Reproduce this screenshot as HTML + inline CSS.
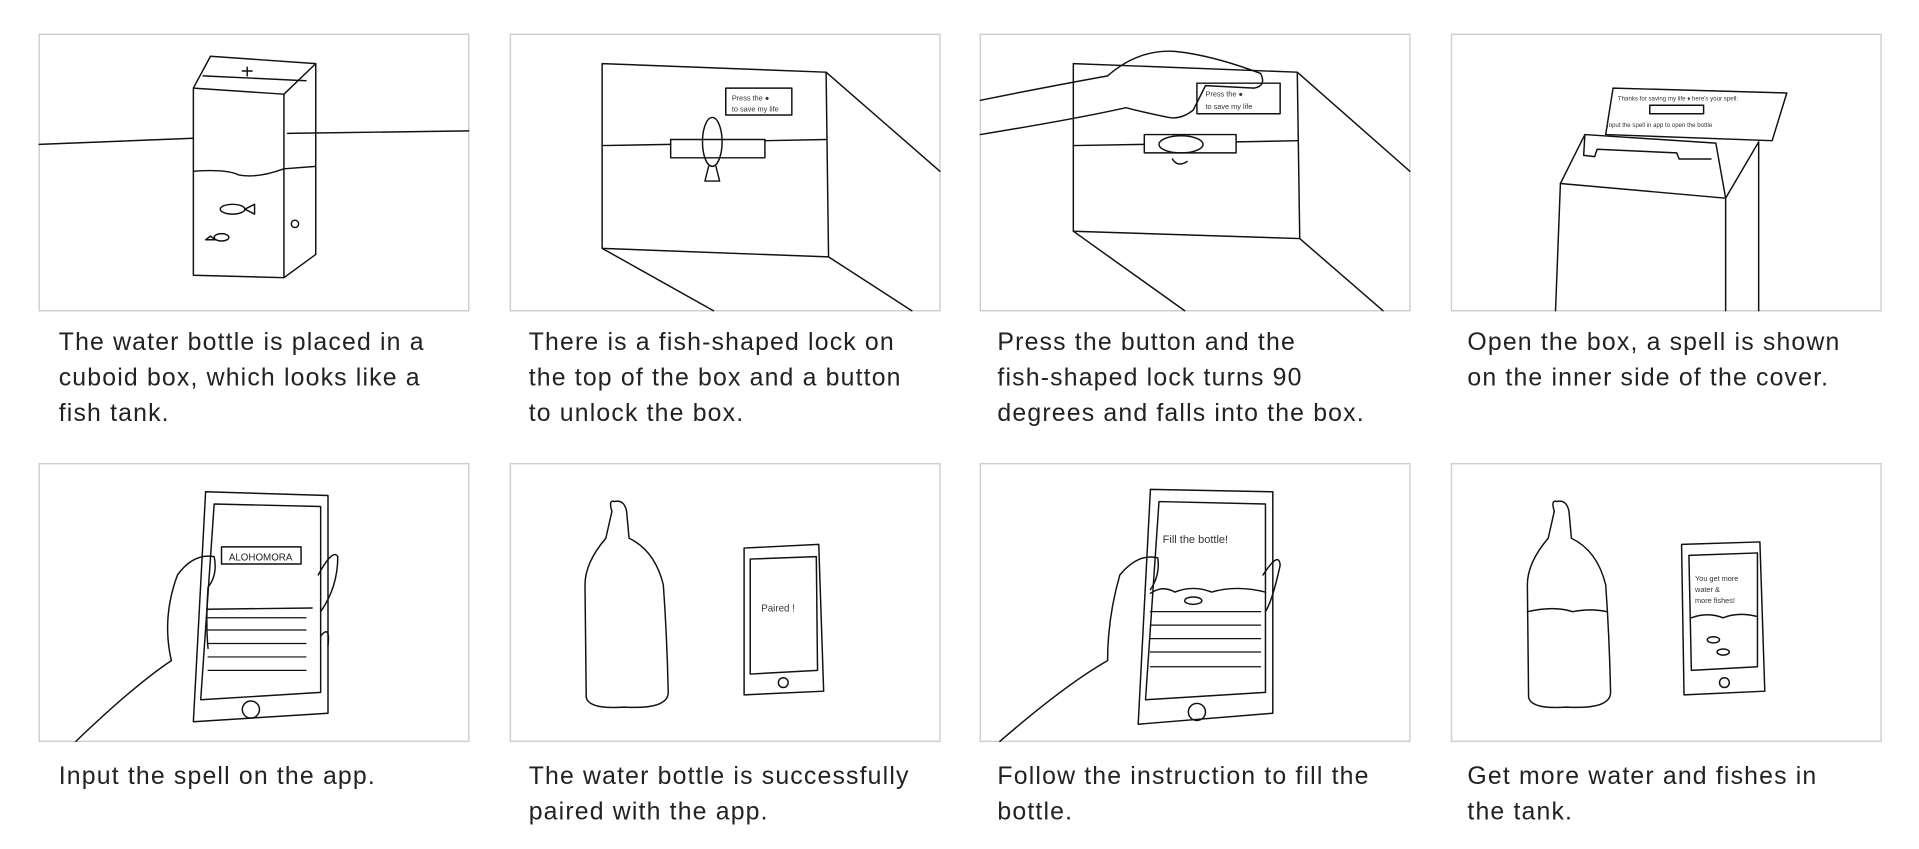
<!DOCTYPE html>
<html><head><meta charset="utf-8"><style>
html,body{margin:0;padding:0;background:#fff;width:1919px;height:849px;overflow:hidden}
svg{display:block}
text{font-family:"Liberation Sans",sans-serif;fill:#222}
.p{fill:#fff;stroke:#cfcfcf;stroke-width:1.2}
.s{fill:none;stroke:#111;stroke-width:1.2;stroke-linecap:round;stroke-linejoin:round}
.t{font-size:20.3px;letter-spacing:0.95px}
.sm{font-size:6px;fill:#333}
</style></head><body>
<svg width="1919" height="849" viewBox="0 0 1568 694" preserveAspectRatio="none">
<rect class="p" x="32" y="28" width="351" height="226"/>
<rect class="p" x="417" y="28" width="351" height="226"/>
<rect class="p" x="801" y="28" width="351" height="226"/>
<rect class="p" x="1186" y="28" width="351" height="226"/>
<rect class="p" x="32" y="379" width="351" height="227"/>
<rect class="p" x="417" y="379" width="351" height="227"/>
<rect class="p" x="801" y="379" width="351" height="227"/>
<rect class="p" x="1186" y="379" width="351" height="227"/>

<!-- panel 1 -->
<g class="s">
<path d="M32 118 L158 113 M235 109 L383 107"/>
<path d="M172 46 L258 52 L258 208 L232 227 L158 225 L158 72 Z M158 72 L232 77 L258 52 M232 77 L232 227"/>
<path d="M166 62 L250 66"/>
<path d="M158 140 Q185 138 195 143 Q210 146 232 138 L258 136"/>
<ellipse cx="190" cy="171" rx="10" ry="4"/><path d="M200 171 L208 167 L208 175 Z"/>
<path d="M168 196 L172 193 L176 196 Z"/><ellipse cx="181" cy="194" rx="6" ry="3"/>
<circle cx="241" cy="183" r="3"/>
<path d="M198 58 L206 58 M202 55 L202 62"/>
</g>
<!-- panel 2 -->
<g class="s">
<path d="M492 52 L675 59 L768 140 M492 52 L492 203 L677 210 L675 59 M492 203 L583 254 M677 210 L745 254"/>
<path d="M492 119 L548 118 M625 115 L675 114"/>
<rect x="548" y="114" width="77" height="15"/>
<ellipse cx="582" cy="116" rx="8" ry="20"/>
<path d="M579 136 L576 148 L588 148 L585 136"/>
<rect x="593" y="72" width="54" height="22"/>
</g>
<text class="sm" x="598" y="82">Press the ●</text><text class="sm" x="598" y="91">to save my life</text>
<!-- panel 3 -->
<g class="s">
<path d="M877 52 L1060 59 L1152 140 M877 52 L877 189 L1062 195 L1060 59 M877 189 L968 254 M1062 195 L1130 254"/>
<path d="M877 119 L935 118 M1010 116 L1060 115"/>
<rect x="935" y="110" width="75" height="15"/>
<ellipse cx="965" cy="118" rx="18" ry="7"/>
<rect x="978" y="68" width="68" height="25"/>
<path d="M801 82 Q850 72 905 62 Q930 40 960 42 Q990 45 1030 60 Q1035 70 1025 72 L985 70 L975 90 Q965 98 955 96 Q935 92 920 88 Q880 97 801 110"/>
<path d="M958 130 Q962 137 970 132"/>
</g>
<text class="sm" x="985" y="79">Press the ●</text><text class="sm" x="985" y="89">to save my life</text>
<!-- panel 4 -->
<g class="s">
<path d="M1275 150 L1410 162 L1437 116 L1437 254 M1275 150 L1271 254 M1410 162 L1410 254"/>
<path d="M1275 150 L1295 110 L1402 117 L1410 162 M1295 110 L1294 127 L1303 128 L1305 122 L1370 125 L1372 130 L1398 130"/>
<path d="M1318 72 L1460 76 L1448 115 L1312 110 Z"/>
<rect x="1348" y="86" width="44" height="7"/>
</g>
<text class="sm" x="1322" y="82" style="font-size:5px">Thanks for saving my life ♦ here's your spell:</text>
<text class="sm" x="1313" y="104" style="font-size:5px">Input the spell in app to open the bottle</text>
<!-- panel 5 -->
<g class="s">
<path d="M168 402 L268 405 L268 583 L158 590 Z M175 412 L262 414 L262 566 L164 572 Z"/>
<circle cx="205" cy="580" r="7"/>
<rect x="181" y="447" width="65" height="14"/>
<path d="M169 498 L255 497"/>
<g stroke-width="1"><path d="M170 505h80M170 515h80M170 526h80M170 537h80M170 548h80"/></g>
<path d="M62 606 Q110 560 140 540 Q132 505 145 470 Q158 452 175 455 Q178 470 170 480 Q168 510 170 530 M260 470 Q272 448 276 455 Q276 480 262 500 M262 520 Q270 510 268 528"/>
</g>
<text x="187" y="458" style="font-size:8px">ALOHOMORA</text>
<!-- panel 6 -->
<g class="s">
<path d="M502 410 Q497 408 500 418 L495 440 Q478 460 478 478 L479 570 Q481 580 510 578 Q546 580 546 566 Q545 520 542 478 Q535 450 514 440 L512 418 Q510 408 502 410 Z"/>
<path d="M608 448 L669 445 L673 565 L608 568 Z M613 457 L667 455 L668 548 L613 551 Z"/>
<circle cx="640" cy="558" r="4"/>
</g>
<text class="sm" x="622" y="500" style="font-size:8px">Paired !</text>
<!-- panel 7 -->
<g class="s">
<path d="M940 400 L1040 402 L1040 583 L930 592 Z M947 410 L1034 412 L1034 566 L936 572 Z"/>
<circle cx="978" cy="582" r="7"/>
<path d="M940 485 Q950 478 960 484 Q975 478 990 484 Q1010 478 1034 484"/>
<ellipse cx="975" cy="491" rx="7" ry="3"/>
<g stroke-width="1"><path d="M940 500h90M940 511h90M940 522h90M940 533h90M940 545h90"/></g>
<path d="M817 606 Q870 560 905 540 Q905 505 915 470 Q930 452 946 456 Q948 470 940 482 M1032 470 Q1045 450 1046 462 Q1040 490 1034 500"/>
</g>
<text class="sm" x="950" y="444" style="font-size:9px">Fill the bottle!</text>
<!-- panel 8 -->
<g class="s">
<path d="M1272 410 Q1267 408 1270 418 L1265 440 Q1248 460 1248 478 L1249 570 Q1251 580 1280 578 Q1316 580 1316 566 Q1315 520 1312 478 Q1305 450 1284 440 L1282 418 Q1280 408 1272 410 Z"/>
<path d="M1248 500 Q1270 495 1285 500 Q1300 497 1313 500"/>
<path d="M1374 445 L1438 443 L1442 565 L1376 568 Z M1380 454 L1436 452 L1436 545 L1382 548 Z"/>
<path d="M1382 505 Q1395 500 1408 505 Q1420 500 1436 504"/>
<circle cx="1409" cy="558" r="4"/>
<ellipse cx="1400" cy="523" rx="5" ry="2.5"/><ellipse cx="1408" cy="533" rx="5" ry="2.5"/>
</g>
<text class="sm" x="1385" y="475">You get more</text><text class="sm" x="1385" y="484">water &amp;</text><text class="sm" x="1385" y="493">more fishes!</text>

<!-- captions -->
<g class="t">
<text x="48" y="286">The water bottle is placed in a</text>
<text x="48" y="315">cuboid box, which looks like a</text>
<text x="48" y="344">fish tank.</text>
<text x="432" y="286">There is a fish-shaped lock on</text>
<text x="432" y="315">the top of the box and a button</text>
<text x="432" y="344">to unlock the box.</text>
<text x="815" y="286">Press the button and the</text>
<text x="815" y="315">fish-shaped lock turns 90</text>
<text x="815" y="344">degrees and falls into the box.</text>
<text x="1199" y="286">Open the box, a spell is shown</text>
<text x="1199" y="315">on the inner side of the cover.</text>
<text x="48" y="641">Input the spell on the app.</text>
<text x="432" y="641">The water bottle is successfully</text>
<text x="432" y="670">paired with the app.</text>
<text x="815" y="641">Follow the instruction to fill the</text>
<text x="815" y="670">bottle.</text>
<text x="1199" y="641">Get more water and fishes in</text>
<text x="1199" y="670">the tank.</text>
</g>
</svg>
</body></html>
